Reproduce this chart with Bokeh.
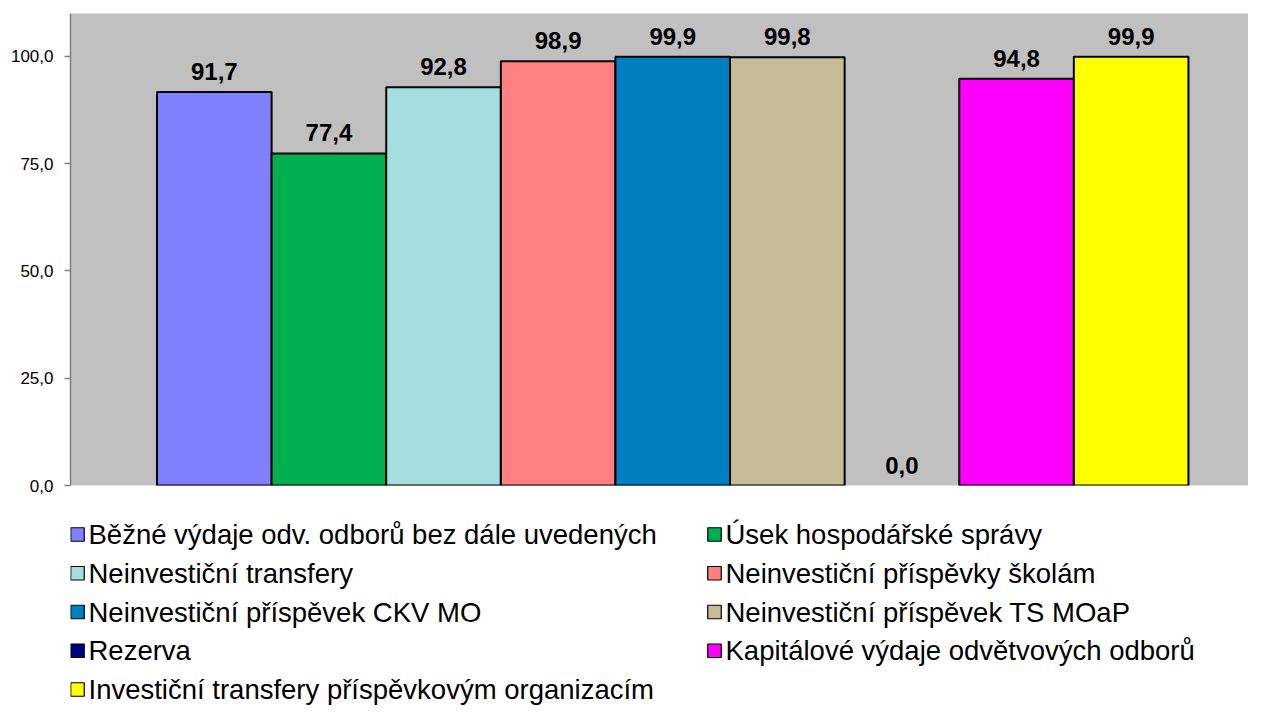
from bokeh.plotting import figure
from bokeh.layouts import column
from bokeh.models import ColumnDataSource, Range1d, FixedTicker, LabelSet
from bokeh.core.properties import value
from bokeh.embed import file_html
from bokeh.resources import INLINE

categories = [
    "Běžné výdaje odv. odborů bez dále uvedených",
    "Úsek hospodářské správy",
    "Neinvestiční transfery",
    "Neinvestiční příspěvky školám",
    "Neinvestiční příspěvek CKV MO",
    "Neinvestiční příspěvek TS MOaP",
    "Rezerva",
    "Kapitálové výdaje odvětvových odborů",
    "Investiční transfery příspěvkovým organizacím",
]
values = [91.7, 77.4, 92.8, 98.9, 99.9, 99.8, 0.0, 94.8, 99.9]
colors = ["#8080FF", "#00B050", "#A6DEE0", "#FF8080", "#0080C0",
          "#C4BD97", "#000080", "#FF00FF", "#FFFF00"]
y_ticks = [0, 25, 50, 75, 100]


def fmt(v):
    return f"{v:.1f}".replace(".", ",")


n = len(values)
FONT = "Liberation Sans"
W = 1248
TOP_H = 497
LEG_H = 706 - TOP_H

# ---------------- main bar chart ----------------
src = ColumnDataSource(dict(
    x=list(range(n)),
    top=values,
    color=colors,
    label=[fmt(v) for v in values],
    line_alpha=[1.0 if v > 0 else 0.0 for v in values],
))

p = figure(width=W, height=TOP_H, output_backend="svg", toolbar_location=None,
           x_range=Range1d(-1.255, 9.024), y_range=Range1d(0, 110),
           x_axis_location=None,
           min_border_left=70, min_border_right=0, min_border_top=13,
           min_border_bottom=TOP_H - 485,
           background_fill_color="#C0C0C0", border_fill_color="white",
           outline_line_color=None)
p.grid.visible = False

p.vbar(x="x", top="top", bottom=0, width=1, source=src,
       fill_color="color", line_color="black", line_width=2,
       line_alpha="line_alpha")

labels = LabelSet(x="x", y="top", text="label", source=src,
                  text_align="center", text_baseline="alphabetic", y_offset=12,
                  text_font=value(FONT), text_font_style="bold",
                  text_font_size="24px", text_color="black")
p.add_layout(labels)

ax = p.yaxis[0]
ax.ticker = FixedTicker(ticks=y_ticks)
ax.major_label_overrides = {t: fmt(t) for t in y_ticks}
ax.minor_tick_line_color = None
ax.major_tick_in = 0
ax.major_tick_out = 6
ax.axis_line_color = "#808080"
ax.axis_line_width = 1.5
ax.major_tick_line_color = "#808080"
ax.major_tick_line_width = 1.5
ax.major_label_text_font = FONT
ax.major_label_text_font_size = "17px"
ax.major_label_text_color = "black"
ax.major_label_standoff = 11

# ---------------- legend (two columns, row-major) ----------------
col_sq_x = [77.0, 714.0]
col_tx_x = [88.0, 725.0]
row0_y, row_pitch = 534.0 - TOP_H, 38.75
leg_src = ColumnDataSource(dict(
    sx=[col_sq_x[i % 2] for i in range(n)],
    tx=[col_tx_x[i % 2] for i in range(n)],
    y=[row0_y + (i // 2) * row_pitch for i in range(n)],
    label=categories,
    color=colors,
))

p2 = figure(width=W, height=LEG_H, output_backend="svg", toolbar_location=None,
            x_range=Range1d(70, W), y_range=Range1d(LEG_H, 0),
            x_axis_location=None, y_axis_location=None,
            min_border_left=70, min_border_right=0, min_border_top=0,
            min_border_bottom=0, outline_line_color=None,
            background_fill_color="white", border_fill_color="white")
p2.grid.visible = False
p2.scatter(x="sx", y="y", marker="square", size=13.5, source=leg_src,
           fill_color="color", line_color="black", line_width=1.2)
p2.text(x="tx", y="y", text="label", source=leg_src,
        text_align="left", text_baseline="middle",
        text_font=value(FONT), text_font_size="27.5px", text_color="black")

layout = column(p, p2, spacing=0)
open("out.html", "w").write(file_html(layout, INLINE))
